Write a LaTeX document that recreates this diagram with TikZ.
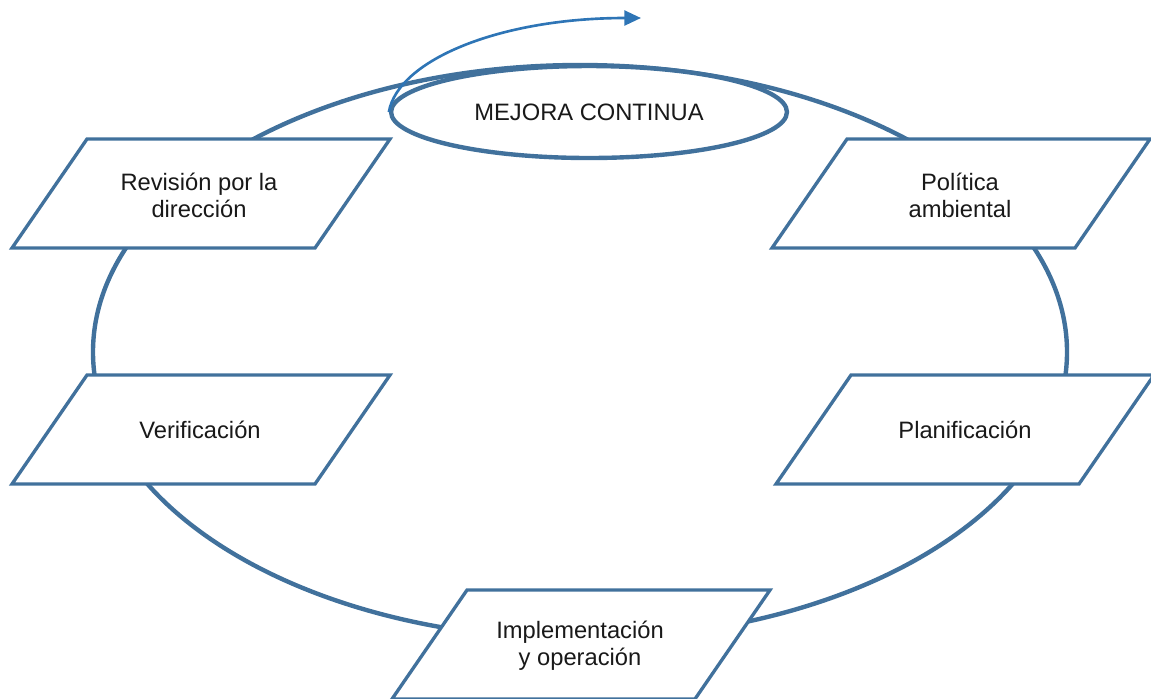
\documentclass[tikz,border=0pt]{standalone}
\usepackage{fontspec}
\setmainfont{Liberation Sans}
\usetikzlibrary{arrows.meta,shapes.geometric}
\definecolor{azulborde}{RGB}{65,113,156}
\definecolor{azulflecha}{RGB}{46,117,182}
\definecolor{gristexto}{RGB}{25,25,25}
\tikzset{
  etapa/.style={draw=azulborde, line width=1.9pt, fill=white},
  texto/.style={align=center, text=gristexto, font=\fontsize{13.5}{15.5}\selectfont},
  ciclo/.style={draw=azulborde, line width=2.5pt},
}
\newcommand{\paralelo}[2]{\draw[etapa] (#1,#2) -- ++(303,0) -- ++(-75,109) -- ++(-303,0) -- cycle;}

\begin{document}
\begin{tikzpicture}[x=0.02cm,y=-0.02cm]
            \useasboundingbox (0,0) rectangle (1151,698);
            \draw[ciclo] (580,352) ellipse [x radius=487, y radius=287];

            \paralelo{87}{139}
            \paralelo{847}{139}
            \paralelo{87}{375}
            \paralelo{851}{375}
            \paralelo{467}{590}

            \node[texto] (revision) at (199,195) {Revisión por la\\dirección};
            \node[texto] (politica) at (960,195) {Política\\ambiental};
            \node[texto] (verificacion) at (200,430) {Verificación};
            \node[texto] (planificacion) at (965,430) {Planificación};
            \node[texto] (implementacion) at (580,646) {Implementación\\y operación};

            \node[ciclo, ellipse, fill=white, minimum width=7.92cm, minimum height=1.84cm,
                  texto] (mejora) at (589,112) {MEJORA CONTINUA};

            \coordinate (salida) at (641,18);
            \draw[azulflecha, line width=1.5pt, -{Triangle[length=9.5pt,width=8.5pt]}]
                (mejora.west) .. controls (398,60) and (500,18) .. (salida);
\end{tikzpicture}
\end{document}
